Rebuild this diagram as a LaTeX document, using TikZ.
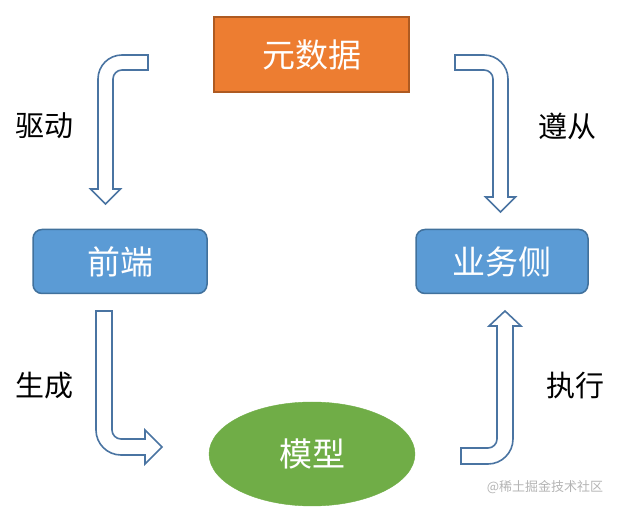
\documentclass[tikz,border=0pt]{standalone}
\usepackage{fontspec}
\setmainfont{Noto Sans CJK SC}
\usetikzlibrary{shapes.geometric}
\definecolor{orangefill}{HTML}{ED7D31}
\definecolor{orangeline}{HTML}{AE5A21}
\definecolor{bluefill}{HTML}{5B9BD5}
\definecolor{blueline}{HTML}{41719C}
\definecolor{greenfill}{HTML}{70AD47}
\definecolor{arrowline}{HTML}{4A74A2}
\definecolor{wmgray}{HTML}{B4B4B4}
\tikzset{
  boxtext/.style={text=white,font=\fontsize{33}{36}\selectfont,inner sep=0pt},
  bluebox/.style={draw=blueline,fill=bluefill,line width=1.5pt,rounded corners=9pt,
    minimum height=64pt,boxtext},
  sidetext/.style={text=black,font=\fontsize{29}{32}\selectfont,inner sep=0pt},
  blockarrow/.style={draw=arrowline,line width=1.6pt,fill=white,line join=miter}
}
\begin{document}
\begin{tikzpicture}[x=1pt,y=1pt,yscale=-1]
\useasboundingbox (0,0) rectangle (619,510);
% nodes
\node[draw=orangeline,fill=orangefill,line width=1.5pt,minimum width=195pt,
  minimum height=75pt,boxtext] (meta) at (311.5,54.5) {元数据};
\node[bluebox,minimum width=174pt] (front) at (120,261.5) {前端};
\node[bluebox,minimum width=172pt] (biz) at (502,261.5) {业务侧};
\node[ellipse,fill=greenfill,draw=greenfill,minimum width=206pt,minimum height=104pt,
  boxtext] (model) at (312,454) {模型};
% side labels
\node[sidetext] (drive) at (45,126) {驱动};
\node[sidetext] (follow) at (567,126) {遵从};
\node[sidetext] (gen) at (45,386) {生成};
\node[sidetext] (exec) at (575,386) {执行};
% watermark
\node[text=wmgray,font=\fontsize{13}{14}\selectfont,inner sep=0pt] (wm) at (545,487) {@稀土掘金技术社区};
% bent block arrows
\draw[blockarrow] (148,55) -- (122,55) arc[start angle=270,end angle=180,radius=24]
  -- (98,189) -- (90.5,189) -- (105.5,204) -- (120.5,189) -- (113,189) -- (113,79)
  arc[start angle=180,end angle=270,radius=9] -- (148,70) -- cycle;
\draw[blockarrow] (455,55) -- (484,55) arc[start angle=270,end angle=360,radius=24]
  -- (508,197) -- (515.5,197) -- (500.5,212) -- (485.5,197) -- (493,197) -- (493,79)
  arc[start angle=0,end angle=-90,radius=9] -- (455,70) -- cycle;
\draw[blockarrow] (96,311) -- (112,311) -- (112,430)
  arc[start angle=180,end angle=90,radius=9] -- (145,439) -- (145,430)
  -- (162,447) -- (145,464) -- (145,455) -- (121,455)
  arc[start angle=90,end angle=180,radius=25] -- cycle;
\draw[blockarrow] (461,448) -- (488,448) arc[start angle=90,end angle=0,radius=9]
  -- (497,326) -- (489,326) -- (505,311) -- (521,326) -- (513,326) -- (513,439)
  arc[start angle=0,end angle=90,radius=25] -- (461,464) -- cycle;
\end{tikzpicture}
\end{document}
